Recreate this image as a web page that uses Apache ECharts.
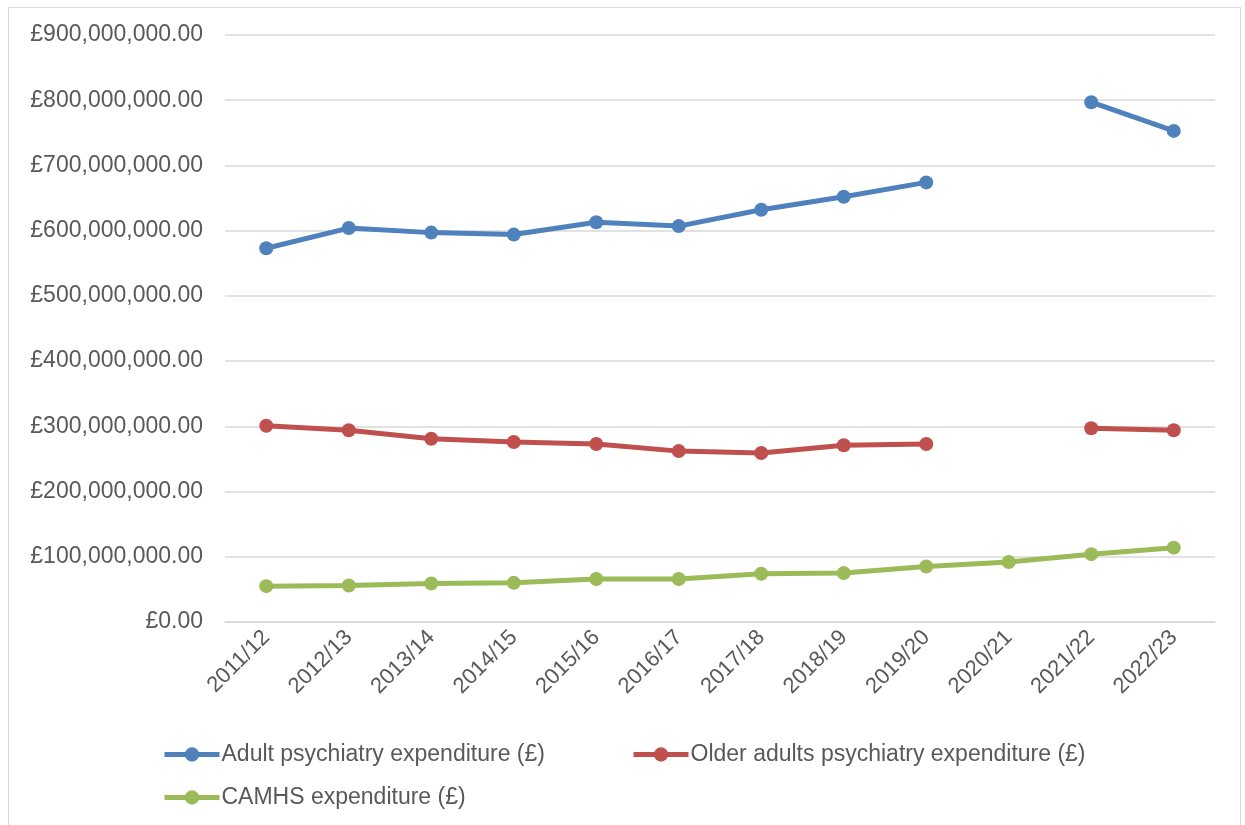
<!DOCTYPE html>
<html>
<head>
<meta charset="utf-8">
<script src="https://cdn.jsdelivr.net/npm/echarts@6/dist/echarts.min.js"></script>
<style>
  html, body { margin: 0; padding: 0; background: #fff; }
  #frame { position: absolute; left: 8px; top: 7px; width: 1233px; height: 830px; border: 1.5px solid #D9D9D9; box-sizing: border-box; }
  #chart { position: absolute; left: 0; top: 0; width: 1245px; height: 825px; }
</style>
</head>
<body>
<div id="frame"></div>
<div id="chart"></div>
<script>
// Financial years on the x axis
const years = ['2011/12', '2012/13', '2013/14', '2014/15', '2015/16', '2016/17',
               '2017/18', '2018/19', '2019/20', '2020/21', '2021/22', '2022/23'];

// Expenditure in pounds (null = not reported that year)
const adultPsychiatry = [573e6, 604e6, 597e6, 594e6, 613e6, 607e6, 632e6, 652e6, 674e6, null, 797e6, 753e6];
const olderAdultsPsychiatry = [301e6, 294e6, 281e6, 276e6, 273e6, 262e6, 259e6, 271e6, 273e6, null, 297e6, 294e6];
const camhs = [55e6, 56e6, 59e6, 60e6, 66e6, 66e6, 74e6, 75e6, 85e6, 92e6, 104e6, 114e6];

const seriesNames = [
  'Adult psychiatry expenditure (£)',
  'Older adults psychiatry expenditure (£)',
  'CAMHS expenditure (£)'
];
const seriesColors = ['#4F81BD', '#C0504D', '#9BBB59'];

const textColor = '#595959';
const fontFamily = '"Liberation Sans", Arial, sans-serif';

function poundLabel(v) {
  return '£' + v.toLocaleString('en-GB', { minimumFractionDigits: 2, maximumFractionDigits: 2 });
}

function makeLine(name, data, color) {
  return {
    name: name,
    type: 'line',
    data: data,
    connectNulls: false,
    symbol: 'circle',
    symbolSize: 14,
    lineStyle: { width: 5, color: color },
    itemStyle: { color: color },
    emphasis: { disabled: true }
  };
}

function legendAt(name, left, top) {
  return {
    data: [name],
    left: left,
    top: top,
    itemWidth: 55,
    itemHeight: 18,
    itemGap: 0,
    lineStyle: { width: 5 },
    textStyle: { color: textColor, fontSize: 23, fontFamily: fontFamily, padding: [0, 0, 0, -3] }
  };
}

const chart = echarts.init(document.getElementById('chart'), null, { renderer: 'canvas' });
chart.setOption({
  animation: false,
  backgroundColor: 'transparent',
  textStyle: { fontFamily: fontFamily },
  grid: { left: 225, right: 30, top: 35, bottom: 203, containLabel: false, outerBoundsMode: 'none' },
  legend: [
    legendAt(seriesNames[0], 157, 738),
    legendAt(seriesNames[1], 626, 738),
    legendAt(seriesNames[2], 157, 781)
  ],
  xAxis: {
    type: 'category',
    data: years,
    boundaryGap: true,
    axisLine: { lineStyle: { color: '#D9D9D9', width: 1.5 } },
    axisTick: { show: false },
    axisLabel: { rotate: 45, color: textColor, fontSize: 22, margin: 12, interval: 0 }
  },
  yAxis: {
    type: 'value',
    min: 0,
    max: 900e6,
    interval: 100e6,
    axisLine: { show: false },
    axisTick: { show: false },
    splitLine: { lineStyle: { color: '#D9D9D9', width: 1.5 } },
    axisLabel: { color: textColor, fontSize: 23, margin: 22, formatter: poundLabel }
  },
  series: [
    makeLine(seriesNames[0], adultPsychiatry, seriesColors[0]),
    makeLine(seriesNames[1], olderAdultsPsychiatry, seriesColors[1]),
    makeLine(seriesNames[2], camhs, seriesColors[2])
  ]
});
</script>
</body>
</html>
